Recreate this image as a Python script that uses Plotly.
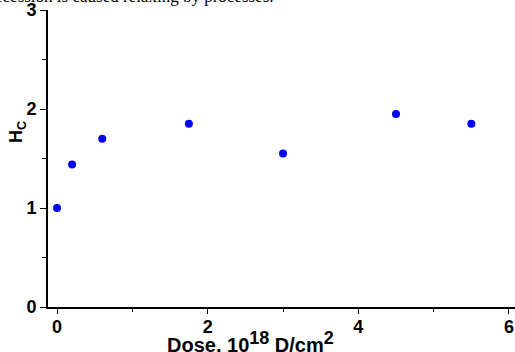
import plotly.graph_objects as go

dose = [0.0, 0.2, 0.6, 1.75, 3.0, 4.5, 5.5]
hc = [1.0, 1.44, 1.70, 1.85, 1.55, 1.95, 1.85]
x_ticks = [0, 2, 4, 6]
y_ticks = [0, 1, 2, 3]

fig = go.Figure()
fig.add_trace(go.Scatter(x=dose, y=hc, mode="markers",
                         marker=dict(color="#0000ff", size=8), showlegend=False,
                         cliponaxis=False))

axfont = dict(family="Arial, Liberation Sans", size=18, color="black", weight="bold")

fig.update_layout(
    width=515, height=352,
    margin=dict(l=48, r=0, t=10, b=45, autoexpand=False),
    paper_bgcolor="white", plot_bgcolor="white",
    xaxis=dict(range=[-0.12, 6.08], tickvals=x_ticks, ticks="outside", ticklen=5,
               tickwidth=1, tickcolor="black", showline=True, linecolor="black",
               linewidth=2, showgrid=False, zeroline=False, tickfont=axfont,
               automargin=False, ticklabelstandoff=-3,
               minor=dict(tickvals=[1, 3, 5], ticks="outside", ticklen=3, tickcolor="black")),
    yaxis=dict(range=[0, 3.0], tickvals=y_ticks, ticks="outside", ticklen=6,
               tickwidth=1, tickcolor="black", showline=True, linecolor="black",
               linewidth=2, showgrid=False, zeroline=False, tickfont=axfont,
               automargin=False,
               minor=dict(tickvals=[0.5, 1.5, 2.5], ticks="outside", ticklen=4, tickcolor="black")),
    annotations=[
        dict(text="<b>Dose, 10<sup><span style='font-size:18px'>18</span></sup> D/cm<sup><span style='font-size:18px'>2</span></sup></b>",
             xref="paper", yref="paper",
             x=(250 - 48) / 467, y=0, xanchor="center", yanchor="top", yshift=-19,
             showarrow=False, font=dict(family="Arial, Liberation Sans", size=20, color="black")),
        dict(text="<b>H<sub>C</sub></b>", xref="paper", yref="paper",
             x=0, y=(307 - 132) / 297, xanchor="center", yanchor="middle", xshift=-31,
             textangle=-90, showarrow=False,
             font=dict(family="Arial, Liberation Sans", size=18, color="black")),
        dict(text="ecession is caused relaxing by processes.", xref="paper", yref="paper",
             x=0, y=1, xanchor="left", yanchor="bottom", xshift=-55, yshift=2,
             showarrow=False,
             font=dict(family="Liberation Serif, Times New Roman", size=17, color="black")),
    ],
)

fig.write_html("out.html", config={"displayModeBar": False},
               post_script="document.body.style.margin='0';document.body.style.overflow='hidden';")
